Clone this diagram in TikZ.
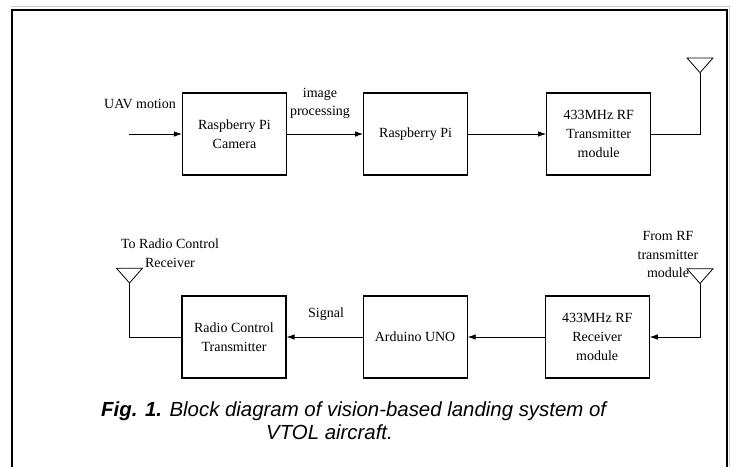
\documentclass[tikz,border=0pt]{standalone}
\usepackage{fontspec}
\setmainfont{Liberation Serif}
\newfontfamily\capfont{Liberation Sans}
\usetikzlibrary{positioning, arrows.meta}

\begin{document}
\begin{tikzpicture}[x=1pt, y=-1pt,
    block/.style={draw, line width=1.1pt, minimum width=104pt, minimum height=82pt,
        inner sep=2pt, align=center, font=\fontsize{14}{18.7}\selectfont},
    lbl/.style={align=center, inner sep=0pt, font=\fontsize{14}{18.7}\selectfont},
    link/.style={line width=0.8pt, -{Latex[length=8pt, width=5.5pt]}},
    wire/.style={line width=0.8pt},
    antenna/.style={line width=0.8pt, line join=miter},
    caption/.style={anchor=base west, inner sep=0pt, font=\capfont\itshape\fontsize{20.4}{23}\selectfont}]
    \useasboundingbox (0,0) rectangle (733,467);
    \draw[gray!40, line width=1pt] (11,6.5) -- (729.5,6.5) -- (729.5,467);
    \draw[line width=1.7pt] (11.7,467) -- (11.7,9.7) -- (727,9.7) -- (727,467);

    \node[block] (cam) at (234.5,134) {Raspberry Pi\\Camera};
    \node[block, right=76pt of cam] (rpi) {Raspberry Pi};
    \node[block, right=78pt of rpi] (tx) {433MHz RF\\Transmitter\\module};

    \node[block] (rct) at (234,337) {Radio Control\\Transmitter};
    \node[block, right=76pt of rct] (ard) {Arduino UNO};
    \node[block, right=77pt of ard] (rx) {433MHz RF\\Receiver\\module};

    \coordinate (uav) at (129,134);
    \coordinate (txant) at (700,72.7);
    \coordinate (rxant) at (700,283.5);
    \coordinate (rctant) at (129.5,283);

    \draw[link] (uav) -- (cam);
    \draw[link] (cam) -- (rpi);
    \draw[link] (rpi) -- (tx);
    \draw[wire] (tx) -| (txant);
    \draw[link] (rxant) |- (rx);
    \draw[link] (rx) -- (ard);
    \draw[link] (ard) -- (rct);
    \draw[wire] (rct) -| (rctant);
    \foreach \a in {txant, rxant, rctant}
        \draw[antenna] (\a) -- ++(-13,-14.8) -- ++(26,0) -- cycle;

    \node[lbl] (uavlbl) at (140,104) {UAV motion};
    \node[lbl] (imglbl) at (320,103.5) {image\\processing};
    \node[lbl] (siglbl) at (326,314) {Signal};
    \node[lbl] (rctlbl) at (170,253.5) {To Radio Control\\Receiver};
    \node[lbl] (rxlbl) at (668,254.5) {From RF\\transmitter\\module};

    \node[caption] (cap1) at (101,416) {\textbf{Fig. 1.} Block diagram of vision-based landing system of};
    \node[caption] (cap2) at (266,439) {VTOL aircraft.};
\end{tikzpicture}
\end{document}
